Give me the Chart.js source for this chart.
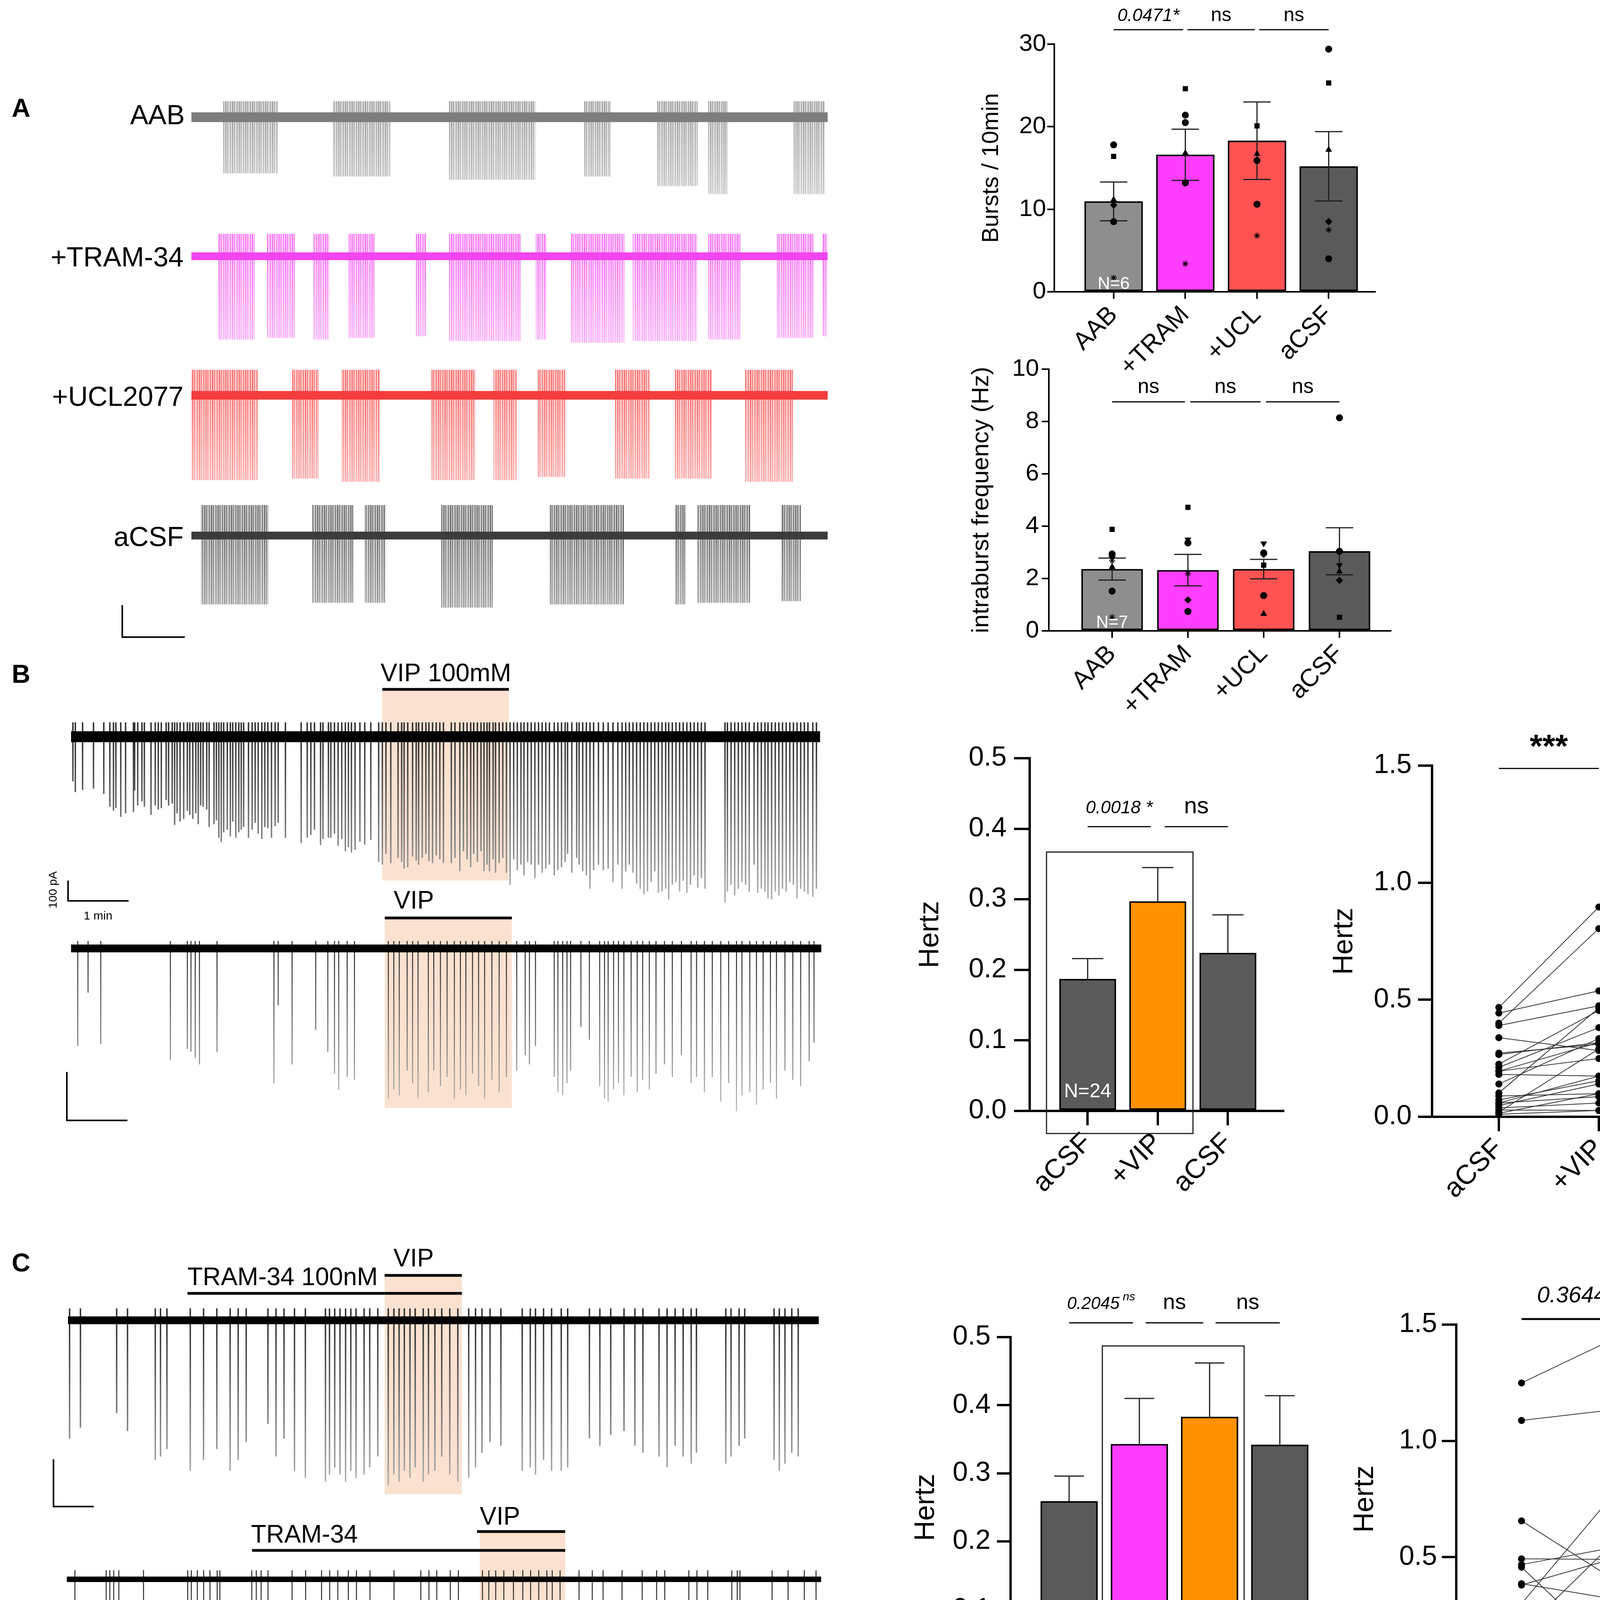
<!DOCTYPE html>
<html>
<head>
<meta charset="utf-8">
<script src="https://cdn.jsdelivr.net/npm/chart.js@4.4.1/dist/chart.umd.min.js"></script>
<style>
body { margin: 0; background: #fff; }
#fig { position: relative; width: 4330px; height: 4573px; overflow: hidden; background: #fff;
       font-family: 'Liberation Sans', Arial, Helvetica, sans-serif; }
.lbl { position: absolute; white-space: nowrap; color: #000; }
</style>
</head>
<body>
<div id="fig">
  <div class="lbl" style="left:30px;top:243px;font:bold 66px/66px 'Liberation Sans',Arial">A</div>
  <div class="lbl" style="left:30px;top:1692px;font:bold 66px/66px 'Liberation Sans',Arial">B</div>
  <div class="lbl" style="left:30px;top:3199px;font:bold 66px/66px 'Liberation Sans',Arial">C</div>
  <div class="lbl" style="right:3857px;top:259px;font:70px/70px 'Liberation Sans',Arial">AAB</div>
  <div class="lbl" style="right:3860px;top:623px;font:70px/70px 'Liberation Sans',Arial">+TRAM-34</div>
  <div class="lbl" style="right:3860px;top:980px;font:70px/70px 'Liberation Sans',Arial">+UCL2077</div>
  <div class="lbl" style="right:3860px;top:1339px;font:70px/70px 'Liberation Sans',Arial">aCSF</div>
</div>
<script>
// ---------------- data ----------------

// A: bursts / 10 min
var groupsA = ['AAB', '+TRAM', '+UCL', 'aCSF'];
var burstMean = [10.95, 16.6, 18.3, 15.2];
var burstSem = [2.35, 3.1, 4.7, 4.2];
var burstPts = [
  [17.8, 16.4, 11.15, 10.5, 8.5, 1.7],
  [24.6, 21.4, 20.5, 16.8, 13.2, 3.4],
  [20.1, 16.7, 15.9, 10.6, 6.8],
  [29.4, 25.3, 17.2, 8.5, 7.5, 4.0]
];
var burstMarks = [
  ['circle', 'rect', 'triangle', 'rectRot', 'circle', 'star'],
  ['rect', 'circle', 'circle', 'triangle', 'circle', 'star'],
  ['rect', 'triangle', 'circle', 'circle', 'star'],
  ['circle', 'rect', 'triangle', 'rectRot', 'star', 'circle']
];

// A: intraburst frequency (Hz)
var ibfMean = [2.36, 2.32, 2.36, 3.04];
var ibfSem = [0.42, 0.6, 0.37, 0.9];
var ibfPts = [
  [3.88, 2.94, 2.85, 2.68, 2.44, 1.52, 0.52],
  [4.72, 3.49, 3.36, 2.19, 1.18, 0.74],
  [3.34, 2.98, 2.92, 2.51, 1.35, 0.65],
  [8.14, 3.04, 2.51, 2.27, 1.93, 0.52]
];
var ibfMarks = [
  ['rect', 'circle', 'rectRot', 'star', 'triangle', 'circle', 'star'],
  ['rect', 'tridown', 'circle', 'star', 'rectRot', 'circle'],
  ['tridown', 'circle', 'rectRot', 'rect', 'circle', 'triangle'],
  ['circle', 'circle', 'tridown', 'triangle', 'rectRot', 'rect']
];

// B: sEPSC frequency
var groupsB = ['aCSF', '+VIP', 'aCSF'];
var hzMeanB = [0.187, 0.297, 0.224];
var hzSemB = [0.029, 0.048, 0.054];
var pairsB = ['aCSF', '+VIP'];
var preB  = [0.467, 0.400, 0.443, 0.390, 0.338, 0.272, 0.266, 0.225, 0.211, 0.195, 0.181, 0.140,
             0.102, 0.089, 0.072, 0.059, 0.048, 0.038, 0.029, 0.020, 0.015, 0.011, 0.195, 0.059];
var postB = [0.896, 0.804, 0.538, 0.474, 0.283, 0.310, 0.317, 0.454, 0.381, 0.249, 0.174, 0.334,
             0.465, 0.099, 0.154, 0.086, 0.140, 0.059, 0.027, 0.290, 0.099, 0.027, 0.317, 0.174];

// C: sEPSC frequency with TRAM-34
var groupsC = ['aCSF', '+TRAM', '+VIP', 'aCSF'];
var hzMeanC = [0.259, 0.343, 0.383, 0.342];
var hzSemC = [0.037, 0.067, 0.079, 0.072];
var pairsC = [['aCSF/', 'TRAM'], '+VIP'];
var preC  = [1.249, 1.088, 0.656, 0.493, 0.468, 0.457, 0.386, 0.380, 0.300, 0.262, 0.256,
             0.241, 0.202, 0.176, 0.166, 0.147, 0.133, 0.115, 0.101, 0.084, 0.012, 0.150];
var postC = [1.455, 1.138, 0.382, 0.490, 0.548, 0.050, 0.314, 0.504, 0.814, 0.223, 0.231,
             0.084, 0.040, 0.598, 0.295, 0.274, 0.231, 0.314, 0.176, 0.026, 0.012, 0.223];

// A traces: bursts [start min, end min, depth], trace length in min
var traceEndA = 10.18;
var burstsAAB  = [[0.50,1.38,35],[2.27,3.18,37],[4.11,5.51,39],[6.28,6.71,37],[7.45,8.10,43],[8.27,8.58,48],[9.63,10.13,48]];
var burstsTRAM = [[0.43,1.01,52],[1.20,1.65,51],[1.95,2.21,52],[2.51,2.94,51],[3.58,3.76,50],[4.12,5.27,53],
                  [5.51,5.68,52],[6.07,6.93,54],[7.06,8.09,53],[8.27,8.80,52],[9.37,9.97,51],[10.10,10.18,50]];
var burstsUCL  = [[0.00,1.07,53],[1.61,2.04,52],[2.40,3.01,54],[3.84,4.54,53],[4.83,5.21,53],[5.54,5.98,51],
                  [6.78,7.34,52],[7.73,8.32,52],[8.86,9.63,54]];
var burstsACSF = [[0.15,1.24,43],[1.93,2.60,42],[2.77,3.11,42],[3.99,4.83,45],[5.73,6.93,43],[7.73,7.91,43],
                  [8.09,8.95,42],[9.44,9.76,41]];

// B/C traces: spikes [time min, amplitude pA]
var spikesB1 = [[0.03,219],[0.07,272],[0.19,262],[0.37,255],[0.54,281],[0.64,344],[0.70,364],[0.74,351],
  [0.82,394],[0.90,377],[1.03,371],[1.05,265],[1.10,338],[1.17,318],[1.21,344],[1.32,384],[1.39,338],
  [1.44,358],[1.49,351],[1.57,311],[1.61,338],[1.67,328],[1.71,434],[1.75,377],[1.80,417],[1.86,404],
  [1.92,364],[1.96,384],[2.01,404],[2.06,377],[2.10,430],[2.14,338],[2.18,344],[2.24,358],[2.28,444],
  [2.36,430],[2.40,411],[2.44,497],[2.48,517],[2.52,470],[2.58,457],[2.63,490],[2.67,417],[2.72,497],
  [2.77,470],[2.81,457],[2.85,444],[2.93,497],[2.99,457],[3.04,424],[3.09,477],[3.15,503],[3.20,444],
  [3.25,450],[3.31,497],[3.37,440],[3.42,424],[3.54,497],[3.80,523],[3.90,497],[3.96,483],[4.02,457],
  [4.12,533],[4.16,503],[4.25,497],[4.29,497],[4.35,477],[4.41,536],[4.47,503],[4.53,563],[4.58,543],
  [4.63,569],[4.69,556],[4.77,517],[4.85,530],[4.95,507],[5.08,616],[5.14,629],[5.20,576],[5.28,622],
  [5.40,596],[5.46,616],[5.50,649],[5.56,642],[5.64,589],[5.70,609],[5.74,629],[5.80,596],[5.86,576],
  [5.91,613],[5.97,622],[6.03,583],[6.09,603],[6.15,622],[6.28,622],[6.34,596],[6.42,662],[6.48,563],
  [6.54,603],[6.60,642],[6.65,576],[6.71,616],[6.77,563],[6.82,662],[6.87,629],[6.91,662],[6.97,603],
  [7.01,669],[7.07,622],[7.13,596],[7.19,669],[7.25,728],[7.31,603],[7.37,656],[7.43,629],[7.48,682],
  [7.54,616],[7.60,629],[7.66,695],[7.72,629],[7.78,669],[7.84,649],[7.90,629],[7.98,682],[8.04,656],
  [8.10,642],[8.16,616],[8.20,576],[8.27,669],[8.35,596],[8.39,629],[8.45,662],[8.51,682],[8.57,748],
  [8.63,656],[8.71,629],[8.79,656],[8.87,649],[8.95,715],[9.03,629],[9.10,748],[9.16,662],[9.22,629],
  [9.28,669],[9.34,722],[9.40,748],[9.46,775],[9.52,762],[9.58,715],[9.64,662],[9.70,768],[9.76,762],
  [9.82,748],[9.87,801],[9.93,728],[9.99,715],[10.05,762],[10.11,709],[10.17,768],[10.23,728],
  [10.29,682],[10.35,742],[10.41,695],[10.47,748],[10.80,815],[10.84,762],[10.90,728],[10.96,781],
  [11.02,748],[11.08,715],[11.14,728],[11.20,762],[11.28,629],[11.34,768],[11.40,748],[11.46,762],
  [11.51,795],[11.57,801],[11.63,762],[11.69,781],[11.75,748],[11.81,762],[11.87,715],[11.93,728],
  [11.99,795],[12.05,748],[12.11,762],[12.17,775],[12.25,788],[12.31,748]];
var spikesB2 = [[0.11,201],[0.28,91],[0.49,197],[1.64,230],[1.92,207],[1.98,213],[2.05,226],[2.12,239],
  [2.41,213],[3.35,278],[3.42,117],[3.65,239],[4.04,168],[4.24,213],[4.35,258],[4.42,291],[4.56,265],
  [4.68,271],[5.24,310],[5.33,291],[5.42,303],[5.55,252],[5.64,278],[5.73,310],[5.90,297],[5.99,252],
  [6.10,284],[6.21,265],[6.33,310],[6.43,291],[6.52,303],[6.63,258],[6.73,284],[6.83,310],[6.95,271],
  [7.07,297],[7.19,265],[7.36,252],[7.50,220],[7.57,239],[7.67,201],[7.98,265],[8.04,297],[8.12,303],
  [8.19,278],[8.25,252],[8.42,162],[8.56,188],[8.73,284],[8.81,310],[8.87,316],[8.96,291],[9.04,278],
  [9.13,303],[9.25,265],[9.35,297],[9.44,271],[9.55,291],[9.66,258],[9.80,239],[9.93,265],[10.08,220],
  [10.24,278],[10.33,265],[10.46,297],[10.59,265],[10.73,316],[10.86,278],[10.99,336],[11.08,303],
  [11.21,297],[11.32,323],[11.43,291],[11.55,278],[11.65,310],[11.79,252],[11.92,271],[12.05,284],
  [12.19,233],[12.27,194]];
var spikesC1 = [[0.04,250],[0.31,227],[1.21,196],[1.48,234],[2.17,295],[2.30,288],[2.46,272],[3.04,318],
  [3.37,295],[3.70,272],[4.03,318],[4.23,295],[4.43,257],[4.97,219],[5.17,288],[5.37,250],[5.63,318],
  [5.90,333],[6.40,341],[6.50,326],[6.63,311],[6.76,326],[6.90,341],[7.03,318],[7.16,333],[7.36,326],
  [7.50,311],[7.70,288],[7.96,349],[8.10,326],[8.23,341],[8.36,318],[8.50,333],[8.63,311],[8.83,341],
  [8.96,326],[9.12,318],[9.29,288],[9.49,326],[9.69,341],[9.96,333],[10.13,311],[10.29,280],[10.49,257],
  [10.76,265],[11.29,318],[11.49,311],[11.62,326],[11.82,295],[12.02,318],[12.26,318],[12.42,311],
  [12.96,250],[13.22,265],[13.49,242],[13.82,234],[14.09,265],[14.29,280],[14.69,288],[14.89,311],
  [15.09,265],[15.29,288],[15.49,303],[15.62,280],[16.35,303],[16.48,288],[16.68,265],[16.82,250],
  [17.55,295],[17.68,318],[17.82,303],[17.99,280],[18.15,288]];
var spikesC2 = [[0.27,245],[1.31,295],[1.43,323],[1.56,280],[1.73,266],[2.55,351],[4.02,337],[4.14,379],
  [4.34,295],[4.55,365],[4.76,394],[5.00,408],[5.09,450],[6.15,379],[6.30,394],[6.46,337],[6.69,422],
  [7.49,493],[7.94,464],[8.47,408],[8.74,521],[9.01,493],[9.36,436],[9.63,422],[10.08,394],[10.88,295],
  [11.77,379],[12.04,479],[12.30,436],[12.75,450],[13.02,507],[13.82,549],[14.03,493],[14.26,436],
  [14.53,521],[14.85,479],[15.16,564],[15.42,549],[15.69,578],[15.96,507],[16.14,564],[16.40,521],
  [17.03,394],[17.47,493],[17.83,436],[18.46,521],[19.13,408],[19.61,479],[19.88,450],[20.68,564],
  [20.95,493],[21.31,521],[22.11,436],[22.29,521],[22.38,479],[23.45,691],[23.98,606],[24.52,564],
  [24.91,464]];

// ---------------- helpers ----------------
var FONT = "'Liberation Sans', Arial, Helvetica, sans-serif";
Chart.defaults.font.family = FONT;
Chart.defaults.color = '#000';
var fig = document.getElementById('fig');

function makeCanvas(box) {
  var c = document.createElement('canvas');
  c.width = box[2] - box[0];
  c.height = box[3] - box[1];
  c.style.cssText = 'position:absolute;left:' + box[0] + 'px;top:' + box[1] + 'px;width:' +
    c.width + 'px;height:' + c.height + 'px';
  fig.appendChild(c);
  return c;
}

function markStyle(m) { return m === 'tridown' ? 'triangle' : m; }
function markRot(m) { return m === 'tridown' ? 180 : 0; }

// error bars, significance bars, box and N label for the summary plots
function statDecor(o) {
  return {
    id: 'statDecor',
    afterDatasetDraw: function (chart, args) {
      if (!o.mean || args.index !== 0) return;
      var ctx = chart.ctx, xs = chart.scales.x, ys = chart.scales.y;
      ctx.save();
      ctx.strokeStyle = '#1e1e1e';
      ctx.lineWidth = 3;
      o.mean.forEach(function (m, i) {
        var x = xs.getPixelForValue(i + 1);
        var top = ys.getPixelForValue(m + o.sem[i]);
        var bot = ys.getPixelForValue(o.both ? m - o.sem[i] : m);
        ctx.beginPath();
        ctx.moveTo(x, bot); ctx.lineTo(x, top);
        ctx.moveTo(x - o.cap / 2, top); ctx.lineTo(x + o.cap / 2, top);
        if (o.both) { ctx.moveTo(x - o.cap / 2, bot); ctx.lineTo(x + o.cap / 2, bot); }
        ctx.stroke();
      });
      ctx.restore();
    },
    afterDraw: function (chart) {
      var ctx = chart.ctx, xs = chart.scales.x, ys = chart.scales.y;
      ctx.save();
      ctx.fillStyle = '#000';
      ctx.strokeStyle = '#000';
      (o.sig || []).forEach(function (s) {
        var x1 = xs.getPixelForValue(s[0]), x2 = xs.getPixelForValue(s[1]);
        var y = ys.getPixelForValue(o.sigLine);
        ctx.lineWidth = o.sigLw || 3;
        ctx.beginPath(); ctx.moveTo(x1, y); ctx.lineTo(x2, y); ctx.stroke();
        ctx.font = s[3] + ' ' + FONT;
        ctx.textBaseline = 'alphabetic';
        var mid = (x1 + x2) / 2, ty = ys.getPixelForValue(o.sigText);
        if (s[4]) {
          var w = ctx.measureText(s[2]).width;
          ctx.font = s[5] + ' ' + FONT;
          var w2 = ctx.measureText(s[4]).width + 8;
          ctx.textAlign = 'left';
          ctx.fillText(s[4], mid - (w + w2) / 2 + w + 8, ty - 22);
          ctx.font = s[3] + ' ' + FONT;
          ctx.fillText(s[2], mid - (w + w2) / 2, ty);
        } else {
          ctx.textAlign = 'center';
          ctx.fillText(s[2], mid, ty);
        }
      });
      if (o.frame) {
        var f = o.frame;
        ctx.lineWidth = 3;
        ctx.strokeStyle = '#222';
        var fx = xs.getPixelForValue(f[0]), fy = ys.getPixelForValue(f[3]);
        ctx.strokeRect(fx, fy, xs.getPixelForValue(f[1]) - fx, ys.getPixelForValue(f[2]) - fy);
      }
      if (o.nLabel) {
        ctx.fillStyle = '#fff';
        ctx.font = o.nLabel[2] + 'px ' + FONT;
        ctx.textAlign = 'center';
        ctx.textBaseline = 'middle';
        ctx.fillText(o.nLabel[3], xs.getPixelForValue(o.nLabel[0]), ys.getPixelForValue(o.nLabel[1]));
      }
      ctx.restore();
    }
  };
}

function statChart(o) {
  var c = makeCanvas(o.box);
  var titleLeft = o.titleX - o.titleSize * 0.6;
  var datasets = [];
  if (o.mean) {
    datasets.push({
      type: 'bar', order: 2,
      data: o.mean.map(function (m, i) { return { x: i + 1, y: m }; }),
      backgroundColor: o.colors, borderColor: '#000', borderWidth: o.barBorder,
      borderSkipped: false, barThickness: o.barW
    });
  }
  if (o.pts) {
    var pts = [], st = [], rot = [];
    o.pts.forEach(function (g, i) {
      g.forEach(function (v, j) {
        pts.push({ x: i + 1, y: v });
        st.push(markStyle(o.marks[i][j]));
        rot.push(markRot(o.marks[i][j]));
      });
    });
    datasets.push({
      type: 'scatter', order: 1, data: pts,
      pointStyle: st, pointRotation: rot, pointRadius: 8,
      pointBackgroundColor: '#000', pointBorderColor: '#000', pointBorderWidth: 2
    });
  }
  if (o.pre) {
    o.pre.forEach(function (v, i) {
      datasets.push({
        type: 'scatter', order: 1, showLine: true,
        data: [{ x: 1, y: v }, { x: 2, y: o.post[i] }],
        borderColor: '#333', borderWidth: 2,
        pointRadius: 8, pointBackgroundColor: '#000', pointBorderColor: '#000'
      });
    });
  }
  return new Chart(c, {
    type: 'bar',
    data: { datasets: datasets },
    options: {
      responsive: false, devicePixelRatio: 1, animation: false,
      layout: { autoPadding: false,
        padding: { left: titleLeft - o.box[0], top: o.area[1] - o.box[1], right: o.box[2] - o.area[2], bottom: 0 } },
      plugins: { legend: { display: false }, tooltip: { enabled: false } },
      scales: {
        x: {
          type: 'linear', min: o.xr[0], max: o.xr[1], offset: false,
          afterBuildTicks: function (s) { s.ticks = o.labels.map(function (l, i) { return { value: i + 1 }; }); },
          afterFit: function (s) { s.height = o.box[3] - o.area[3]; },
          grid: { offset: false, drawOnChartArea: false, tickLength: o.xTick, tickWidth: o.lw,
                  tickColor: '#000', color: '#000', lineWidth: o.lw },
          border: { display: true, color: '#000', width: o.lw },
          ticks: { autoSkip: false, minRotation: 45, maxRotation: 45, padding: 4, color: '#000',
                   font: { size: o.xFont },
                   callback: function (v) { return o.labels[Math.round(v) - 1]; } }
        },
        y: {
          min: 0, max: o.yMax,
          afterFit: function (s) { s.width = o.area[0] - titleLeft; },
          ticks: { stepSize: o.yStep, padding: o.yPad, color: '#000', font: { size: o.yFont },
                   callback: function (v) { return o.yDec ? v.toFixed(o.yDec) : String(v); } },
          grid: { drawOnChartArea: false, tickLength: o.yTick, tickWidth: o.lw, tickColor: '#000',
                  color: '#000', lineWidth: o.lw },
          border: { display: true, color: '#000', width: o.lw },
          title: { display: true, text: o.title, color: '#000', font: { size: o.titleSize }, padding: 0 }
        }
      }
    },
    plugins: [statDecor(o)]
  });
}

// drug bars, labels and scale bars on the recordings
function traceDecor(o) {
  return {
    id: 'traceDecor',
    afterDraw: function (chart) {
      var ctx = chart.ctx, xs = chart.scales.x, ys = chart.scales.y;
      ctx.save();
      ctx.strokeStyle = '#000';
      ctx.fillStyle = '#000';
      (o.drugs || []).forEach(function (d) {
        ctx.lineWidth = 7;
        ctx.beginPath();
        ctx.moveTo(xs.getPixelForValue(d[0]), ys.getPixelForValue(d[2]));
        ctx.lineTo(xs.getPixelForValue(d[1]), ys.getPixelForValue(d[2]));
        ctx.stroke();
      });
      (o.notes || []).forEach(function (t) {
        ctx.font = '64px ' + FONT;
        ctx.textAlign = t[3] || 'center';
        ctx.textBaseline = 'alphabetic';
        ctx.fillText(t[2], xs.getPixelForValue(t[0]), ys.getPixelForValue(t[1]));
      });
      if (o.bar) {
        var b = o.bar;
        var x0 = xs.getPixelForValue(b[0]), y0 = ys.getPixelForValue(b[1]);
        var x1 = xs.getPixelForValue(b[0] + b[2]), y1 = ys.getPixelForValue(b[1] + b[3]);
        ctx.lineWidth = 4;
        ctx.beginPath(); ctx.moveTo(x0, y1); ctx.lineTo(x0, y0); ctx.lineTo(x1, y0); ctx.stroke();
      }
      if (o.barText) {
        ctx.font = '30px ' + FONT;
        ctx.textAlign = 'center';
        ctx.textBaseline = 'middle';
        var bt = o.barText;
        ctx.fillText(bt[1][2], xs.getPixelForValue(bt[1][0]), ys.getPixelForValue(bt[1][1]));
        ctx.translate(xs.getPixelForValue(bt[0][0]), ys.getPixelForValue(bt[0][1]));
        ctx.rotate(-Math.PI / 2);
        ctx.fillText(bt[0][2], 0, 0);
      }
      ctx.restore();
    }
  };
}

function burstPattern(c, color, baseY) {
  var p = document.createElement('canvas');
  p.width = 17; p.height = c.height;
  var g = p.getContext('2d');
  g.fillStyle = color;
  [[0, 2], [4, 1], [7, 2], [11, 1], [13, 2]].forEach(function (s) { g.fillRect(s[0], 0, s[1], p.height); });
  g.globalCompositeOperation = 'source-atop';
  var gr = g.createLinearGradient(0, baseY, 0, p.height);
  gr.addColorStop(0, 'rgba(255,255,255,0)');
  gr.addColorStop(1, 'rgba(255,255,255,0.45)');
  g.fillStyle = gr;
  g.fillRect(0, 0, p.width, p.height);
  return c.getContext('2d').createPattern(p, 'repeat');
}

function traceChart(o) {
  var c = makeCanvas(o.box);
  var xmin = (o.box[0] - o.x0) / o.pxX, xmax = (o.box[2] - o.x0) / o.pxX;
  var ymax = (o.base - o.box[1]) / o.pxY, ymin = -(o.box[3] - o.base) / o.pxY;
  var baseY = o.base - o.box[1];
  var ds = [];
  if (o.shade) {
    ds.push({ type: 'line', order: 5,
      data: [{ x: o.shade[0], y: o.shade[2] }, { x: o.shade[1], y: o.shade[2] }],
      fill: { value: o.shade[3] }, backgroundColor: 'rgba(243,188,150,0.45)',
      borderWidth: 0, pointRadius: 0 });
  }
  if (o.bursts) {
    var pat = burstPattern(c, o.color, baseY);
    o.bursts.forEach(function (b) {
      ds.push({ type: 'line', order: 3,
        data: [{ x: b[0], y: o.up }, { x: b[1], y: o.up }],
        fill: { value: -b[2] }, backgroundColor: pat, borderWidth: 0, pointRadius: 0 });
    });
  }
  if (o.spikes) {
    var gr = c.getContext('2d').createLinearGradient(0, baseY, 0, c.height);
    gr.addColorStop(0, '#2e2e2e');
    gr.addColorStop(1, '#c6c6c6');
    ds.push({ type: 'bar', order: 3,
      data: o.spikes.map(function (s) { return { x: s[0], y: [o.up, -s[1]] }; }),
      backgroundColor: gr, borderWidth: 0, barThickness: o.spikeW, grouped: false });
  }
  ds.push({ type: 'line', order: 1,
    data: [{ x: 0, y: 0 }, { x: o.end, y: 0 }],
    borderColor: o.color, borderWidth: o.band, borderCapStyle: 'butt', pointRadius: 0, fill: false });
  return new Chart(c, {
    type: 'line',
    data: { datasets: ds },
    options: {
      responsive: false, devicePixelRatio: 1, animation: false,
      layout: { autoPadding: false, padding: 0 },
      plugins: { legend: { display: false }, tooltip: { enabled: false } },
      scales: {
        x: { type: 'linear', display: false, min: xmin, max: xmax, offset: false, grid: { offset: false } },
        y: { type: 'linear', display: false, min: ymin, max: ymax, beginAtZero: false }
      }
    },
    plugins: [traceDecor(o)]
  });
}

// ---------------- panel A recordings ----------------
traceChart({ box: [480, 250, 2130, 515], x0: 490, pxX: 160, base: 300, pxY: 4.1, end: traceEndA,
  color: '#7d7d7d', band: 25, up: 10, bursts: burstsAAB });
traceChart({ box: [480, 585, 2130, 895], x0: 490, pxX: 160, base: 656, pxY: 4.1, end: traceEndA,
  color: '#f245ef', band: 20, up: 14, bursts: burstsTRAM });
traceChart({ box: [480, 930, 2130, 1265], x0: 490, pxX: 160, base: 1012, pxY: 4.1, end: traceEndA,
  color: '#f43c3c', band: 22, up: 16, bursts: burstsUCL });
traceChart({ box: [290, 1280, 2130, 1645], x0: 490, pxX: 160, base: 1371, pxY: 4.1, end: traceEndA,
  color: '#3c3c3c', band: 20, up: 19, bursts: burstsACSF, bar: [-1.106, -63.4, 1, 20] });

// ---------------- panel B recordings ----------------
traceChart({ box: [100, 1680, 2110, 2370], x0: 182, pxX: 155, base: 1886, pxY: 0.52, end: 12.37,
  color: '#000', band: 28, up: 70, spikeW: 3, spikes: spikesB1,
  shade: [5.14, 7.23, 227, -708], drugs: [[5.14, 7.23, 233]], notes: [[6.19, 273, 'VIP 100mM']],
  bar: [-0.05, -808, 1, 100], barText: [[-0.29, -754, '100 pA'], [0.445, -885, '1 min']] });
traceChart({ box: [100, 2260, 2115, 2885], x0: 182, pxX: 155, base: 2428, pxY: 1.24, end: 12.39,
  color: '#000', band: 20, up: 15, spikeW: 2, spikes: spikesB2,
  shade: [5.18, 7.28, 63, -329], drugs: [[5.18, 7.28, 63]], notes: [[5.66, 82, 'VIP']],
  bar: [-0.07, -355, 1, 100] });

// ---------------- panel C recordings ----------------
traceChart({ box: [100, 3180, 2110, 3870], x0: 174, pxX: 103, base: 3380, pxY: 1.21, end: 18.66,
  color: '#000', band: 20, up: 25, spikeW: 3, spikes: spikesC1,
  shade: [7.87, 9.79, 94, -368], drugs: [[7.87, 9.79, 95], [2.97, 9.79, 57]],
  notes: [[7.70, 74, 'TRAM-34 100nM', 'right'], [8.59, 114, 'VIP']],
  bar: [-0.36, -394, 1, 100] });
traceChart({ box: [100, 3840, 2115, 4545], x0: 171, pxX: 77, base: 4043, pxY: 0.65, end: 25.08,
  color: '#000', band: 14, up: 35, spikeW: 2, spikes: spikesC2,
  shade: [13.73, 16.57, 188, -582], drugs: [[13.64, 16.57, 188], [6.16, 16.57, 114]],
  notes: [[7.9, 145, 'TRAM-34'], [14.4, 215, 'VIP']],
  bar: [0.04, -592, 1, 100] });

// ---------------- summary plots ----------------
statChart({ box: [2490, 0, 3560, 960], area: [2699, 113, 3520, 747], xr: [0.172, 4.646],
  labels: groupsA, mean: burstMean, sem: burstSem, both: true, cap: 70, pts: burstPts, marks: burstMarks,
  colors: ['#8e8e8e', '#ff3dff', '#ff5252', '#5a5a5a'], barW: 149, barBorder: 4,
  yMax: 30, yStep: 10, yFont: 62, yTick: 18, yPad: 3, xFont: 64, xTick: 18, lw: 4,
  title: 'Bursts / 10min', titleX: 2538, titleSize: 60,
  sig: [[1.0, 1.97, '0.0471*', 'italic 46px'], [2.03, 2.97, 'ns', '50px'], [3.03, 4.0, 'ns', '50px']],
  sigLine: 31.75, sigText: 32.8, nLabel: [1, 0.9, 44, 'N=6'] });

statChart({ box: [2460, 850, 3600, 1820], area: [2685, 945, 3560, 1615], xr: [0.165, 4.675],
  labels: groupsA, mean: ibfMean, sem: ibfSem, both: true, cap: 70, pts: ibfPts, marks: ibfMarks,
  colors: ['#8e8e8e', '#ff3dff', '#ff5252', '#5a5a5a'], barW: 157, barBorder: 4,
  yMax: 10, yStep: 2, yFont: 62, yTick: 18, yPad: 7, xFont: 64, xTick: 18, lw: 4,
  title: 'intraburst frequency (Hz)', titleX: 2513, titleSize: 62,
  sig: [[1.0, 1.96, 'ns', '53px'], [2.03, 2.96, 'ns', '53px'], [3.03, 4.0, 'ns', '53px']],
  sigLine: 8.75, sigText: 9.09, nLabel: [1, 0.3, 44, 'N=7'] });

statChart({ box: [2320, 1880, 3290, 3120], area: [2636, 1930, 3285, 2844], xr: [0.173, 3.789],
  labels: groupsB, mean: hzMeanB, sem: hzSemB, both: false, cap: 80,
  colors: ['#5a5a5a', '#ff9100', '#5a5a5a'], barW: 145, barBorder: 4,
  yMax: 0.5, yStep: 0.1, yDec: 1, yFont: 70, yTick: 40, yPad: 19, xFont: 70, xTick: 37, lw: 6,
  title: 'Hertz', titleX: 2382, titleSize: 72,
  sig: [[1.0, 1.9, '0.0018 *', 'italic 46px'], [2.1, 3.0, 'ns', '60px']],
  sigLine: 0.403, sigText: 0.422, frame: [0.413, 2.502, -0.032, 0.367], nLabel: [1, 0.027, 50, 'N=24'] });

statChart({ box: [3380, 1860, 4300, 3120], area: [3666, 1960, 4264, 2859], xr: [0.332, 2.668],
  labels: pairsB, pre: preB, post: postB,
  yMax: 1.5, yStep: 0.5, yDec: 1, yFont: 70, yTick: 36, yPad: 16, xFont: 70, xTick: 37, lw: 6,
  title: 'Hertz', titleX: 3442, titleSize: 72,
  sig: [[1, 2, '***', 'bold 84px']], sigLine: 1.488, sigText: 1.535 });

statChart({ box: [2310, 3260, 3440, 4573], area: [2587, 3423, 3420, 4295], xr: [0.166, 4.799],
  labels: groupsC, mean: hzMeanC, sem: hzSemC, both: false, cap: 76,
  colors: ['#5a5a5a', '#ff3dff', '#ff9100', '#5a5a5a'], barW: 146, barBorder: 4,
  yMax: 0.5, yStep: 0.1, yDec: 1, yFont: 70, yTick: 35, yPad: 16, xFont: 70, xTick: 34, lw: 6,
  title: 'Hertz', titleX: 2371, titleSize: 72,
  sig: [[1.0, 1.91, '0.2045', 'italic 44px', 'ns', 'italic 30px'], [2.09, 2.91, 'ns', '56px'], [3.085, 4.0, 'ns', '56px']],
  sigLine: 0.521, sigText: 0.5415, frame: [1.473, 3.492, -0.031, 0.487], nLabel: [1, 0.034, 46, 'N=22'] });

statChart({ box: [3440, 3260, 4330, 4573], area: [3728, 3391, 4316, 4284], xr: [0.35, 2.638],
  labels: pairsC, pre: preC, post: postC,
  yMax: 1.5, yStep: 0.5, yDec: 1, yFont: 70, yTick: 37, yPad: 12, xFont: 70, xTick: 34, lw: 6,
  title: 'Hertz', titleX: 3495, titleSize: 72,
  sig: [[1, 2, '0.3644', 'italic 58px']], sigLine: 1.524, sigText: 1.596, sigLw: 5 });
</script>
</body>
</html>
